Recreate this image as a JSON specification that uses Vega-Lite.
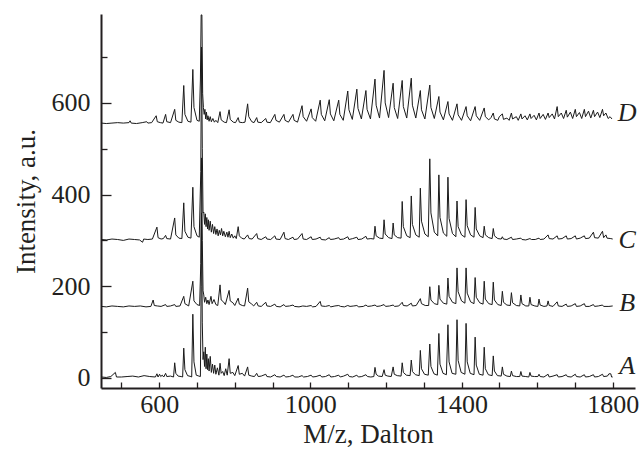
{
"$schema":"https://vega.github.io/schema/vega-lite/v6.json",
"width":534,"height":374,
"autosize":{"type":"none"},
"padding":{"left":101,"top":14,"right":8,"bottom":66},
"config":{"view":{"stroke":null},"font":"Liberation Serif"},
"datasets":{
"lab":[{"s":"A","x":1838,"y":26},{"s":"B","x":1838,"y":164},{"s":"C","x":1838,"y":301},{"s":"D","x":1838,"y":579}],
"spec":[
{"s":"A","x":447,"y":2},{"s":"A","x":460,"y":1},{"s":"A","x":472,"y":3},{"s":"A","x":484,"y":12},{"s":"A","x":487,"y":2},{"s":"A","x":500,"y":2},{"s":"A","x":515,"y":3},{"s":"A","x":530,"y":4},{"s":"A","x":545,"y":2},{"s":"A","x":560,"y":5},{"s":"A","x":575,"y":3},{"s":"A","x":590,"y":2},{"s":"A","x":594,"y":9},{"s":"A","x":597,"y":2},{"s":"A","x":601,"y":8},{"s":"A","x":604,"y":3},{"s":"A","x":608,"y":6},{"s":"A","x":612,"y":2},{"s":"A","x":617,"y":10},{"s":"A","x":620,"y":3},{"s":"A","x":630,"y":4},{"s":"A","x":638,"y":2},{"s":"A","x":641,"y":33},{"s":"A","x":644,"y":10},{"s":"A","x":650,"y":4},{"s":"A","x":658,"y":3},{"s":"A","x":662,"y":2},{"s":"A","x":665,"y":65},{"s":"A","x":668,"y":18},{"s":"A","x":675,"y":5},{"s":"A","x":684,"y":3},{"s":"A","x":686,"y":2},{"s":"A","x":689,"y":139},{"s":"A","x":692,"y":35},{"s":"A","x":698,"y":6},{"s":"A","x":705,"y":4},{"s":"A","x":709,"y":3},{"s":"A","x":711,"y":200},{"s":"A","x":712,"y":360},{"s":"A","x":714,"y":120},{"s":"A","x":716,"y":40},{"s":"A","x":718,"y":57},{"s":"A","x":720,"y":25},{"s":"A","x":722,"y":67},{"s":"A","x":724,"y":20},{"s":"A","x":726,"y":52},{"s":"A","x":728,"y":18},{"s":"A","x":730,"y":42},{"s":"A","x":732,"y":15},{"s":"A","x":735,"y":47},{"s":"A","x":738,"y":12},{"s":"A","x":741,"y":30},{"s":"A","x":744,"y":10},{"s":"A","x":747,"y":28},{"s":"A","x":750,"y":8},{"s":"A","x":754,"y":22},{"s":"A","x":758,"y":6},{"s":"A","x":761,"y":32},{"s":"A","x":764,"y":10},{"s":"A","x":768,"y":14},{"s":"A","x":772,"y":5},{"s":"A","x":776,"y":20},{"s":"A","x":780,"y":6},{"s":"A","x":785,"y":42},{"s":"A","x":788,"y":10},{"s":"A","x":795,"y":12},{"s":"A","x":800,"y":5},{"s":"A","x":809,"y":27},{"s":"A","x":812,"y":8},{"s":"A","x":820,"y":10},{"s":"A","x":826,"y":4},{"s":"A","x":834,"y":24},{"s":"A","x":837,"y":6},{"s":"A","x":845,"y":4},{"s":"A","x":852,"y":3},{"s":"A","x":858,"y":10},{"s":"A","x":862,"y":3},{"s":"A","x":870,"y":4},{"s":"A","x":882,"y":8},{"s":"A","x":885,"y":3},{"s":"A","x":895,"y":2},{"s":"A","x":906,"y":7},{"s":"A","x":910,"y":3},{"s":"A","x":920,"y":2},{"s":"A","x":930,"y":6},{"s":"A","x":935,"y":2},{"s":"A","x":945,"y":3},{"s":"A","x":954,"y":6},{"s":"A","x":958,"y":2},{"s":"A","x":968,"y":2},{"s":"A","x":978,"y":5},{"s":"A","x":982,"y":2},{"s":"A","x":992,"y":3},{"s":"A","x":1002,"y":6},{"s":"A","x":1006,"y":2},{"s":"A","x":1015,"y":3},{"s":"A","x":1026,"y":6},{"s":"A","x":1030,"y":2},{"s":"A","x":1040,"y":3},{"s":"A","x":1050,"y":7},{"s":"A","x":1054,"y":2},{"s":"A","x":1064,"y":3},{"s":"A","x":1075,"y":6},{"s":"A","x":1079,"y":2},{"s":"A","x":1088,"y":4},{"s":"A","x":1099,"y":8},{"s":"A","x":1103,"y":3},{"s":"A","x":1112,"y":2},{"s":"A","x":1123,"y":6},{"s":"A","x":1127,"y":2},{"s":"A","x":1136,"y":3},{"s":"A","x":1147,"y":7},{"s":"A","x":1151,"y":3},{"s":"A","x":1160,"y":2},{"s":"A","x":1168,"y":3},{"s":"A","x":1171,"y":23},{"s":"A","x":1174,"y":8},{"s":"A","x":1180,"y":4},{"s":"A","x":1190,"y":3},{"s":"A","x":1195,"y":18},{"s":"A","x":1198,"y":6},{"s":"A","x":1205,"y":4},{"s":"A","x":1214,"y":3},{"s":"A","x":1219,"y":24},{"s":"A","x":1222,"y":8},{"s":"A","x":1230,"y":5},{"s":"A","x":1240,"y":4},{"s":"A","x":1243,"y":33},{"s":"A","x":1246,"y":12},{"s":"A","x":1254,"y":6},{"s":"A","x":1264,"y":5},{"s":"A","x":1267,"y":39},{"s":"A","x":1270,"y":14},{"s":"A","x":1278,"y":7},{"s":"A","x":1288,"y":5},{"s":"A","x":1291,"y":60},{"s":"A","x":1294,"y":20},{"s":"A","x":1302,"y":8},{"s":"A","x":1312,"y":6},{"s":"A","x":1316,"y":74},{"s":"A","x":1319,"y":25},{"s":"A","x":1327,"y":9},{"s":"A","x":1336,"y":6},{"s":"A","x":1340,"y":97},{"s":"A","x":1343,"y":30},{"s":"A","x":1351,"y":10},{"s":"A","x":1360,"y":7},{"s":"A","x":1364,"y":116},{"s":"A","x":1367,"y":35},{"s":"A","x":1375,"y":10},{"s":"A","x":1385,"y":8},{"s":"A","x":1388,"y":127},{"s":"A","x":1391,"y":38},{"s":"A","x":1399,"y":12},{"s":"A","x":1409,"y":8},{"s":"A","x":1412,"y":119},{"s":"A","x":1415,"y":35},{"s":"A","x":1423,"y":10},{"s":"A","x":1433,"y":7},{"s":"A","x":1436,"y":89},{"s":"A","x":1439,"y":28},{"s":"A","x":1447,"y":8},{"s":"A","x":1457,"y":6},{"s":"A","x":1460,"y":67},{"s":"A","x":1463,"y":20},{"s":"A","x":1471,"y":7},{"s":"A","x":1481,"y":5},{"s":"A","x":1484,"y":48},{"s":"A","x":1487,"y":15},{"s":"A","x":1495,"y":5},{"s":"A","x":1505,"y":4},{"s":"A","x":1508,"y":24},{"s":"A","x":1511,"y":8},{"s":"A","x":1520,"y":4},{"s":"A","x":1529,"y":3},{"s":"A","x":1532,"y":15},{"s":"A","x":1535,"y":5},{"s":"A","x":1545,"y":3},{"s":"A","x":1554,"y":3},{"s":"A","x":1557,"y":14},{"s":"A","x":1560,"y":4},{"s":"A","x":1570,"y":3},{"s":"A","x":1578,"y":2},{"s":"A","x":1581,"y":12},{"s":"A","x":1584,"y":4},{"s":"A","x":1593,"y":3},{"s":"A","x":1602,"y":3},{"s":"A","x":1605,"y":8},{"s":"A","x":1608,"y":3},{"s":"A","x":1618,"y":2},{"s":"A","x":1629,"y":8},{"s":"A","x":1632,"y":2},{"s":"A","x":1642,"y":4},{"s":"A","x":1653,"y":7},{"s":"A","x":1656,"y":2},{"s":"A","x":1666,"y":3},{"s":"A","x":1677,"y":7},{"s":"A","x":1680,"y":3},{"s":"A","x":1690,"y":2},{"s":"A","x":1701,"y":8},{"s":"A","x":1704,"y":3},{"s":"A","x":1714,"y":2},{"s":"A","x":1725,"y":7},{"s":"A","x":1728,"y":2},{"s":"A","x":1738,"y":3},{"s":"A","x":1749,"y":7},{"s":"A","x":1752,"y":2},{"s":"A","x":1762,"y":3},{"s":"A","x":1773,"y":8},{"s":"A","x":1776,"y":3},{"s":"A","x":1786,"y":4},{"s":"A","x":1790,"y":9},{"s":"A","x":1795,"y":9},{"s":"A","x":1797,"y":2},{"s":"A","x":1800,"y":2},
{"s":"B","x":447,"y":156},{"s":"B","x":460,"y":155},{"s":"B","x":475,"y":157},{"s":"B","x":490,"y":156},{"s":"B","x":505,"y":155},{"s":"B","x":520,"y":157},{"s":"B","x":535,"y":156},{"s":"B","x":550,"y":157},{"s":"B","x":565,"y":155},{"s":"B","x":578,"y":156},{"s":"B","x":584,"y":170},{"s":"B","x":587,"y":158},{"s":"B","x":595,"y":157},{"s":"B","x":605,"y":156},{"s":"B","x":617,"y":160},{"s":"B","x":620,"y":156},{"s":"B","x":630,"y":157},{"s":"B","x":641,"y":160},{"s":"B","x":644,"y":156},{"s":"B","x":655,"y":157},{"s":"B","x":665,"y":178},{"s":"B","x":668,"y":162},{"s":"B","x":678,"y":157},{"s":"B","x":689,"y":211},{"s":"B","x":692,"y":168},{"s":"B","x":700,"y":160},{"s":"B","x":707,"y":158},{"s":"B","x":710,"y":250},{"s":"B","x":712,"y":480},{"s":"B","x":714,"y":300},{"s":"B","x":716,"y":190},{"s":"B","x":718,"y":181},{"s":"B","x":720,"y":165},{"s":"B","x":723,"y":176},{"s":"B","x":726,"y":162},{"s":"B","x":729,"y":170},{"s":"B","x":732,"y":160},{"s":"B","x":737,"y":178},{"s":"B","x":740,"y":162},{"s":"B","x":745,"y":171},{"s":"B","x":750,"y":160},{"s":"B","x":755,"y":158},{"s":"B","x":761,"y":203},{"s":"B","x":764,"y":170},{"s":"B","x":770,"y":166},{"s":"B","x":775,"y":160},{"s":"B","x":785,"y":191},{"s":"B","x":788,"y":168},{"s":"B","x":795,"y":164},{"s":"B","x":800,"y":158},{"s":"B","x":809,"y":174},{"s":"B","x":812,"y":161},{"s":"B","x":820,"y":158},{"s":"B","x":826,"y":157},{"s":"B","x":834,"y":196},{"s":"B","x":837,"y":166},{"s":"B","x":845,"y":161},{"s":"B","x":850,"y":157},{"s":"B","x":858,"y":165},{"s":"B","x":862,"y":157},{"s":"B","x":870,"y":156},{"s":"B","x":882,"y":165},{"s":"B","x":885,"y":157},{"s":"B","x":895,"y":156},{"s":"B","x":906,"y":161},{"s":"B","x":910,"y":156},{"s":"B","x":920,"y":155},{"s":"B","x":930,"y":160},{"s":"B","x":934,"y":156},{"s":"B","x":945,"y":157},{"s":"B","x":954,"y":159},{"s":"B","x":958,"y":156},{"s":"B","x":970,"y":155},{"s":"B","x":980,"y":157},{"s":"B","x":990,"y":156},{"s":"B","x":1002,"y":158},{"s":"B","x":1006,"y":155},{"s":"B","x":1015,"y":156},{"s":"B","x":1026,"y":167},{"s":"B","x":1029,"y":157},{"s":"B","x":1040,"y":156},{"s":"B","x":1050,"y":158},{"s":"B","x":1054,"y":155},{"s":"B","x":1065,"y":157},{"s":"B","x":1075,"y":158},{"s":"B","x":1080,"y":156},{"s":"B","x":1090,"y":155},{"s":"B","x":1099,"y":158},{"s":"B","x":1105,"y":156},{"s":"B","x":1115,"y":157},{"s":"B","x":1123,"y":158},{"s":"B","x":1128,"y":155},{"s":"B","x":1140,"y":156},{"s":"B","x":1147,"y":159},{"s":"B","x":1152,"y":156},{"s":"B","x":1162,"y":157},{"s":"B","x":1171,"y":159},{"s":"B","x":1176,"y":156},{"s":"B","x":1185,"y":157},{"s":"B","x":1195,"y":160},{"s":"B","x":1199,"y":156},{"s":"B","x":1210,"y":157},{"s":"B","x":1219,"y":159},{"s":"B","x":1223,"y":156},{"s":"B","x":1234,"y":157},{"s":"B","x":1243,"y":165},{"s":"B","x":1246,"y":158},{"s":"B","x":1256,"y":157},{"s":"B","x":1267,"y":163},{"s":"B","x":1270,"y":157},{"s":"B","x":1280,"y":158},{"s":"B","x":1291,"y":173},{"s":"B","x":1294,"y":162},{"s":"B","x":1304,"y":158},{"s":"B","x":1313,"y":158},{"s":"B","x":1316,"y":199},{"s":"B","x":1319,"y":170},{"s":"B","x":1328,"y":162},{"s":"B","x":1337,"y":160},{"s":"B","x":1340,"y":202},{"s":"B","x":1343,"y":172},{"s":"B","x":1352,"y":163},{"s":"B","x":1361,"y":161},{"s":"B","x":1364,"y":218},{"s":"B","x":1367,"y":178},{"s":"B","x":1376,"y":165},{"s":"B","x":1385,"y":162},{"s":"B","x":1388,"y":240},{"s":"B","x":1391,"y":188},{"s":"B","x":1400,"y":168},{"s":"B","x":1409,"y":163},{"s":"B","x":1412,"y":240},{"s":"B","x":1415,"y":185},{"s":"B","x":1424,"y":166},{"s":"B","x":1433,"y":162},{"s":"B","x":1436,"y":219},{"s":"B","x":1439,"y":176},{"s":"B","x":1448,"y":164},{"s":"B","x":1457,"y":161},{"s":"B","x":1460,"y":211},{"s":"B","x":1463,"y":172},{"s":"B","x":1472,"y":162},{"s":"B","x":1481,"y":160},{"s":"B","x":1484,"y":209},{"s":"B","x":1487,"y":170},{"s":"B","x":1496,"y":160},{"s":"B","x":1505,"y":158},{"s":"B","x":1508,"y":189},{"s":"B","x":1511,"y":165},{"s":"B","x":1520,"y":159},{"s":"B","x":1529,"y":158},{"s":"B","x":1532,"y":186},{"s":"B","x":1535,"y":164},{"s":"B","x":1545,"y":158},{"s":"B","x":1554,"y":157},{"s":"B","x":1557,"y":181},{"s":"B","x":1560,"y":162},{"s":"B","x":1570,"y":157},{"s":"B","x":1578,"y":157},{"s":"B","x":1581,"y":176},{"s":"B","x":1584,"y":160},{"s":"B","x":1594,"y":157},{"s":"B","x":1602,"y":156},{"s":"B","x":1605,"y":172},{"s":"B","x":1608,"y":159},{"s":"B","x":1618,"y":156},{"s":"B","x":1626,"y":157},{"s":"B","x":1629,"y":168},{"s":"B","x":1632,"y":158},{"s":"B","x":1642,"y":156},{"s":"B","x":1653,"y":166},{"s":"B","x":1656,"y":157},{"s":"B","x":1666,"y":156},{"s":"B","x":1677,"y":161},{"s":"B","x":1680,"y":156},{"s":"B","x":1690,"y":157},{"s":"B","x":1701,"y":162},{"s":"B","x":1704,"y":156},{"s":"B","x":1714,"y":157},{"s":"B","x":1725,"y":162},{"s":"B","x":1728,"y":156},{"s":"B","x":1738,"y":156},{"s":"B","x":1749,"y":160},{"s":"B","x":1752,"y":156},{"s":"B","x":1762,"y":157},{"s":"B","x":1773,"y":159},{"s":"B","x":1776,"y":156},{"s":"B","x":1790,"y":156},{"s":"B","x":1800,"y":157},
{"s":"C","x":447,"y":302},{"s":"C","x":460,"y":301},{"s":"C","x":475,"y":303},{"s":"C","x":490,"y":302},{"s":"C","x":505,"y":300},{"s":"C","x":520,"y":303},{"s":"C","x":535,"y":302},{"s":"C","x":548,"y":301},{"s":"C","x":556,"y":296},{"s":"C","x":559,"y":303},{"s":"C","x":570,"y":302},{"s":"C","x":582,"y":303},{"s":"C","x":594,"y":329},{"s":"C","x":597,"y":306},{"s":"C","x":605,"y":303},{"s":"C","x":611,"y":304},{"s":"C","x":617,"y":311},{"s":"C","x":620,"y":304},{"s":"C","x":630,"y":303},{"s":"C","x":641,"y":349},{"s":"C","x":644,"y":312},{"s":"C","x":652,"y":305},{"s":"C","x":660,"y":304},{"s":"C","x":665,"y":382},{"s":"C","x":668,"y":320},{"s":"C","x":676,"y":307},{"s":"C","x":684,"y":305},{"s":"C","x":689,"y":416},{"s":"C","x":692,"y":330},{"s":"C","x":700,"y":310},{"s":"C","x":706,"y":307},{"s":"C","x":710,"y":450},{"s":"C","x":712,"y":722},{"s":"C","x":714,"y":500},{"s":"C","x":716,"y":360},{"s":"C","x":718,"y":362},{"s":"C","x":720,"y":335},{"s":"C","x":722,"y":358},{"s":"C","x":724,"y":330},{"s":"C","x":726,"y":350},{"s":"C","x":728,"y":325},{"s":"C","x":730,"y":345},{"s":"C","x":732,"y":322},{"s":"C","x":735,"y":342},{"s":"C","x":738,"y":318},{"s":"C","x":741,"y":335},{"s":"C","x":744,"y":315},{"s":"C","x":747,"y":330},{"s":"C","x":750,"y":313},{"s":"C","x":753,"y":325},{"s":"C","x":756,"y":310},{"s":"C","x":759,"y":322},{"s":"C","x":762,"y":312},{"s":"C","x":765,"y":326},{"s":"C","x":768,"y":310},{"s":"C","x":771,"y":320},{"s":"C","x":775,"y":308},{"s":"C","x":779,"y":318},{"s":"C","x":782,"y":307},{"s":"C","x":785,"y":320},{"s":"C","x":788,"y":306},{"s":"C","x":792,"y":314},{"s":"C","x":796,"y":305},{"s":"C","x":800,"y":310},{"s":"C","x":804,"y":304},{"s":"C","x":809,"y":330},{"s":"C","x":812,"y":310},{"s":"C","x":818,"y":305},{"s":"C","x":825,"y":303},{"s":"C","x":834,"y":312},{"s":"C","x":838,"y":304},{"s":"C","x":846,"y":303},{"s":"C","x":858,"y":315},{"s":"C","x":861,"y":304},{"s":"C","x":870,"y":302},{"s":"C","x":882,"y":308},{"s":"C","x":885,"y":303},{"s":"C","x":895,"y":302},{"s":"C","x":906,"y":310},{"s":"C","x":909,"y":303},{"s":"C","x":920,"y":302},{"s":"C","x":930,"y":318},{"s":"C","x":933,"y":304},{"s":"C","x":942,"y":302},{"s":"C","x":954,"y":307},{"s":"C","x":957,"y":302},{"s":"C","x":966,"y":303},{"s":"C","x":978,"y":315},{"s":"C","x":981,"y":303},{"s":"C","x":990,"y":302},{"s":"C","x":1002,"y":308},{"s":"C","x":1005,"y":302},{"s":"C","x":1015,"y":303},{"s":"C","x":1026,"y":307},{"s":"C","x":1029,"y":302},{"s":"C","x":1040,"y":301},{"s":"C","x":1050,"y":306},{"s":"C","x":1053,"y":302},{"s":"C","x":1063,"y":303},{"s":"C","x":1075,"y":306},{"s":"C","x":1078,"y":302},{"s":"C","x":1088,"y":303},{"s":"C","x":1099,"y":308},{"s":"C","x":1102,"y":302},{"s":"C","x":1112,"y":304},{"s":"C","x":1123,"y":307},{"s":"C","x":1126,"y":302},{"s":"C","x":1136,"y":303},{"s":"C","x":1147,"y":309},{"s":"C","x":1150,"y":303},{"s":"C","x":1160,"y":304},{"s":"C","x":1168,"y":303},{"s":"C","x":1171,"y":331},{"s":"C","x":1174,"y":310},{"s":"C","x":1183,"y":305},{"s":"C","x":1192,"y":304},{"s":"C","x":1195,"y":345},{"s":"C","x":1198,"y":314},{"s":"C","x":1207,"y":306},{"s":"C","x":1216,"y":304},{"s":"C","x":1219,"y":338},{"s":"C","x":1222,"y":312},{"s":"C","x":1231,"y":306},{"s":"C","x":1240,"y":305},{"s":"C","x":1243,"y":385},{"s":"C","x":1246,"y":330},{"s":"C","x":1255,"y":310},{"s":"C","x":1264,"y":306},{"s":"C","x":1267,"y":397},{"s":"C","x":1270,"y":335},{"s":"C","x":1279,"y":312},{"s":"C","x":1288,"y":307},{"s":"C","x":1291,"y":414},{"s":"C","x":1294,"y":342},{"s":"C","x":1303,"y":314},{"s":"C","x":1312,"y":308},{"s":"C","x":1316,"y":478},{"s":"C","x":1319,"y":360},{"s":"C","x":1328,"y":318},{"s":"C","x":1337,"y":310},{"s":"C","x":1340,"y":443},{"s":"C","x":1343,"y":350},{"s":"C","x":1352,"y":316},{"s":"C","x":1361,"y":309},{"s":"C","x":1364,"y":438},{"s":"C","x":1367,"y":348},{"s":"C","x":1376,"y":315},{"s":"C","x":1385,"y":308},{"s":"C","x":1388,"y":386},{"s":"C","x":1391,"y":330},{"s":"C","x":1400,"y":312},{"s":"C","x":1409,"y":307},{"s":"C","x":1412,"y":389},{"s":"C","x":1415,"y":332},{"s":"C","x":1424,"y":312},{"s":"C","x":1433,"y":307},{"s":"C","x":1436,"y":372},{"s":"C","x":1439,"y":325},{"s":"C","x":1448,"y":310},{"s":"C","x":1457,"y":306},{"s":"C","x":1460,"y":331},{"s":"C","x":1463,"y":312},{"s":"C","x":1472,"y":306},{"s":"C","x":1481,"y":304},{"s":"C","x":1484,"y":326},{"s":"C","x":1487,"y":310},{"s":"C","x":1496,"y":304},{"s":"C","x":1505,"y":303},{"s":"C","x":1508,"y":308},{"s":"C","x":1511,"y":303},{"s":"C","x":1520,"y":302},{"s":"C","x":1532,"y":307},{"s":"C","x":1535,"y":302},{"s":"C","x":1545,"y":303},{"s":"C","x":1557,"y":305},{"s":"C","x":1560,"y":302},{"s":"C","x":1570,"y":301},{"s":"C","x":1581,"y":304},{"s":"C","x":1585,"y":302},{"s":"C","x":1595,"y":302},{"s":"C","x":1605,"y":305},{"s":"C","x":1608,"y":302},{"s":"C","x":1618,"y":303},{"s":"C","x":1629,"y":312},{"s":"C","x":1632,"y":304},{"s":"C","x":1642,"y":303},{"s":"C","x":1653,"y":310},{"s":"C","x":1656,"y":303},{"s":"C","x":1666,"y":304},{"s":"C","x":1677,"y":310},{"s":"C","x":1680,"y":303},{"s":"C","x":1690,"y":304},{"s":"C","x":1701,"y":310},{"s":"C","x":1704,"y":303},{"s":"C","x":1714,"y":305},{"s":"C","x":1725,"y":310},{"s":"C","x":1728,"y":304},{"s":"C","x":1738,"y":305},{"s":"C","x":1749,"y":318},{"s":"C","x":1752,"y":306},{"s":"C","x":1762,"y":305},{"s":"C","x":1773,"y":320},{"s":"C","x":1776,"y":306},{"s":"C","x":1782,"y":312},{"s":"C","x":1785,"y":305},{"s":"C","x":1795,"y":304},{"s":"C","x":1800,"y":303},
{"s":"D","x":447,"y":556},{"s":"D","x":460,"y":555},{"s":"D","x":475,"y":556},{"s":"D","x":490,"y":557},{"s":"D","x":505,"y":556},{"s":"D","x":520,"y":557},{"s":"D","x":523,"y":561},{"s":"D","x":526,"y":556},{"s":"D","x":540,"y":555},{"s":"D","x":555,"y":557},{"s":"D","x":567,"y":559},{"s":"D","x":570,"y":556},{"s":"D","x":580,"y":557},{"s":"D","x":592,"y":572},{"s":"D","x":595,"y":559},{"s":"D","x":603,"y":557},{"s":"D","x":610,"y":556},{"s":"D","x":617,"y":575},{"s":"D","x":620,"y":559},{"s":"D","x":630,"y":557},{"s":"D","x":641,"y":586},{"s":"D","x":644,"y":562},{"s":"D","x":652,"y":558},{"s":"D","x":660,"y":557},{"s":"D","x":665,"y":638},{"s":"D","x":668,"y":575},{"s":"D","x":676,"y":560},{"s":"D","x":684,"y":558},{"s":"D","x":689,"y":673},{"s":"D","x":692,"y":590},{"s":"D","x":700,"y":562},{"s":"D","x":706,"y":560},{"s":"D","x":709,"y":650},{"s":"D","x":711,"y":792},{"s":"D","x":713,"y":792},{"s":"D","x":715,"y":620},{"s":"D","x":717,"y":590},{"s":"D","x":719,"y":575},{"s":"D","x":721,"y":586},{"s":"D","x":723,"y":565},{"s":"D","x":725,"y":580},{"s":"D","x":727,"y":563},{"s":"D","x":729,"y":572},{"s":"D","x":732,"y":560},{"s":"D","x":735,"y":570},{"s":"D","x":738,"y":559},{"s":"D","x":742,"y":566},{"s":"D","x":746,"y":558},{"s":"D","x":750,"y":562},{"s":"D","x":755,"y":557},{"s":"D","x":761,"y":581},{"s":"D","x":764,"y":563},{"s":"D","x":772,"y":558},{"s":"D","x":778,"y":557},{"s":"D","x":785,"y":585},{"s":"D","x":788,"y":564},{"s":"D","x":796,"y":558},{"s":"D","x":802,"y":557},{"s":"D","x":809,"y":568},{"s":"D","x":812,"y":558},{"s":"D","x":820,"y":557},{"s":"D","x":827,"y":558},{"s":"D","x":834,"y":598},{"s":"D","x":837,"y":570},{"s":"D","x":845,"y":559},{"s":"D","x":851,"y":557},{"s":"D","x":858,"y":568},{"s":"D","x":861,"y":558},{"s":"D","x":870,"y":557},{"s":"D","x":882,"y":566},{"s":"D","x":885,"y":558},{"s":"D","x":894,"y":557},{"s":"D","x":906,"y":575},{"s":"D","x":909,"y":562},{"s":"D","x":918,"y":558},{"s":"D","x":930,"y":575},{"s":"D","x":933,"y":562},{"s":"D","x":942,"y":558},{"s":"D","x":954,"y":575},{"s":"D","x":957,"y":562},{"s":"D","x":966,"y":558},{"s":"D","x":978,"y":594},{"s":"D","x":981,"y":570},{"s":"D","x":990,"y":560},{"s":"D","x":1002,"y":587},{"s":"D","x":1005,"y":568},{"s":"D","x":1014,"y":560},{"s":"D","x":1026,"y":606},{"s":"D","x":1029,"y":575},{"s":"D","x":1038,"y":561},{"s":"D","x":1050,"y":607},{"s":"D","x":1053,"y":576},{"s":"D","x":1062,"y":561},{"s":"D","x":1075,"y":606},{"s":"D","x":1078,"y":575},{"s":"D","x":1087,"y":562},{"s":"D","x":1099,"y":626},{"s":"D","x":1102,"y":585},{"s":"D","x":1111,"y":564},{"s":"D","x":1123,"y":630},{"s":"D","x":1126,"y":588},{"s":"D","x":1135,"y":565},{"s":"D","x":1147,"y":627},{"s":"D","x":1150,"y":586},{"s":"D","x":1159,"y":565},{"s":"D","x":1171,"y":652},{"s":"D","x":1174,"y":595},{"s":"D","x":1183,"y":567},{"s":"D","x":1195,"y":671},{"s":"D","x":1198,"y":600},{"s":"D","x":1207,"y":568},{"s":"D","x":1219,"y":643},{"s":"D","x":1222,"y":590},{"s":"D","x":1231,"y":566},{"s":"D","x":1243,"y":649},{"s":"D","x":1246,"y":592},{"s":"D","x":1255,"y":567},{"s":"D","x":1267,"y":654},{"s":"D","x":1270,"y":595},{"s":"D","x":1279,"y":567},{"s":"D","x":1291,"y":627},{"s":"D","x":1294,"y":585},{"s":"D","x":1303,"y":565},{"s":"D","x":1316,"y":639},{"s":"D","x":1319,"y":590},{"s":"D","x":1328,"y":566},{"s":"D","x":1340,"y":614},{"s":"D","x":1343,"y":580},{"s":"D","x":1352,"y":563},{"s":"D","x":1364,"y":603},{"s":"D","x":1367,"y":576},{"s":"D","x":1376,"y":562},{"s":"D","x":1388,"y":598},{"s":"D","x":1391,"y":574},{"s":"D","x":1400,"y":562},{"s":"D","x":1412,"y":592},{"s":"D","x":1415,"y":572},{"s":"D","x":1424,"y":561},{"s":"D","x":1436,"y":592},{"s":"D","x":1439,"y":572},{"s":"D","x":1448,"y":562},{"s":"D","x":1460,"y":589},{"s":"D","x":1463,"y":570},{"s":"D","x":1472,"y":563},{"s":"D","x":1478,"y":568},{"s":"D","x":1484,"y":578},{"s":"D","x":1487,"y":565},{"s":"D","x":1496,"y":562},{"s":"D","x":1500,"y":570},{"s":"D","x":1508,"y":576},{"s":"D","x":1511,"y":564},{"s":"D","x":1520,"y":567},{"s":"D","x":1526,"y":562},{"s":"D","x":1532,"y":578},{"s":"D","x":1535,"y":565},{"s":"D","x":1545,"y":570},{"s":"D","x":1550,"y":562},{"s":"D","x":1557,"y":576},{"s":"D","x":1560,"y":565},{"s":"D","x":1568,"y":572},{"s":"D","x":1574,"y":563},{"s":"D","x":1581,"y":576},{"s":"D","x":1584,"y":566},{"s":"D","x":1592,"y":573},{"s":"D","x":1598,"y":563},{"s":"D","x":1605,"y":578},{"s":"D","x":1608,"y":566},{"s":"D","x":1616,"y":575},{"s":"D","x":1622,"y":564},{"s":"D","x":1629,"y":578},{"s":"D","x":1632,"y":568},{"s":"D","x":1640,"y":576},{"s":"D","x":1646,"y":565},{"s":"D","x":1653,"y":592},{"s":"D","x":1656,"y":570},{"s":"D","x":1664,"y":578},{"s":"D","x":1670,"y":566},{"s":"D","x":1677,"y":584},{"s":"D","x":1680,"y":569},{"s":"D","x":1688,"y":580},{"s":"D","x":1694,"y":566},{"s":"D","x":1701,"y":586},{"s":"D","x":1704,"y":570},{"s":"D","x":1712,"y":579},{"s":"D","x":1718,"y":566},{"s":"D","x":1725,"y":586},{"s":"D","x":1728,"y":570},{"s":"D","x":1736,"y":582},{"s":"D","x":1742,"y":567},{"s":"D","x":1749,"y":584},{"s":"D","x":1752,"y":570},{"s":"D","x":1760,"y":580},{"s":"D","x":1766,"y":568},{"s":"D","x":1773,"y":586},{"s":"D","x":1776,"y":572},{"s":"D","x":1782,"y":578},{"s":"D","x":1788,"y":566},{"s":"D","x":1793,"y":570},{"s":"D","x":1798,"y":565}
]},
"layer":[
{"data":{"name":"spec"},
 "mark":{"type":"line","strokeWidth":1,"color":"#1a1a1a","clip":true},
 "encoding":{
  "x":{"field":"x","type":"quantitative","scale":{"domain":[446,1859],"nice":false,"zero":false},
   "axis":{"values":[500,600,700,800,900,1000,1100,1200,1300,1400,1500,1600,1700,1800],
    "labelExpr":"indexof([600,1000,1400,1800], datum.value) >= 0 ? '' + datum.value : ''",
    "grid":false,"tickSize":-6,"tickWidth":1.3,"tickColor":"#231f20","domainWidth":2,"domainColor":"#231f20",
    "labelFont":"Liberation Serif","labelFontSize":26,"labelColor":"#231f20","labelPadding":9,"labelFlush":false,"labelOverlap":false,
    "title":"M/z, Dalton","titleFont":"Liberation Serif","titleFontSize":27,"titleFontWeight":"normal","titleColor":"#231f20","titlePadding":4}},
  "y":{"field":"y","type":"quantitative","scale":{"domain":[-22,794],"nice":false,"zero":false},
   "axis":{"values":[0,100,200,300,400,500,600,700],
    "labelExpr":"datum.value % 200 == 0 ? '' + datum.value : ''",
    "grid":false,"tickSize":{"condition":{"test":"datum.value % 200 === 0","value":-10},"value":-6},"tickWidth":1.3,"tickColor":"#231f20","domainWidth":2,"domainColor":"#231f20",
    "labelFont":"Liberation Serif","labelFontSize":26,"labelColor":"#231f20","labelPadding":21,"labelOverlap":false,
    "title":"Intensity, a.u.","titleFont":"Liberation Serif","titleFontSize":27,"titleFontWeight":"normal","titleColor":"#231f20","titlePadding":11}},
  "detail":{"field":"s","type":"nominal"}}},
{"data":{"name":"lab"},
 "mark":{"type":"text","font":"Liberation Serif","fontStyle":"italic","fontSize":26,"align":"center","baseline":"middle","color":"#231f20","clip":false},
 "encoding":{"x":{"field":"x","type":"quantitative"},"y":{"field":"y","type":"quantitative"},"text":{"field":"s","type":"nominal"}}}
]
}
